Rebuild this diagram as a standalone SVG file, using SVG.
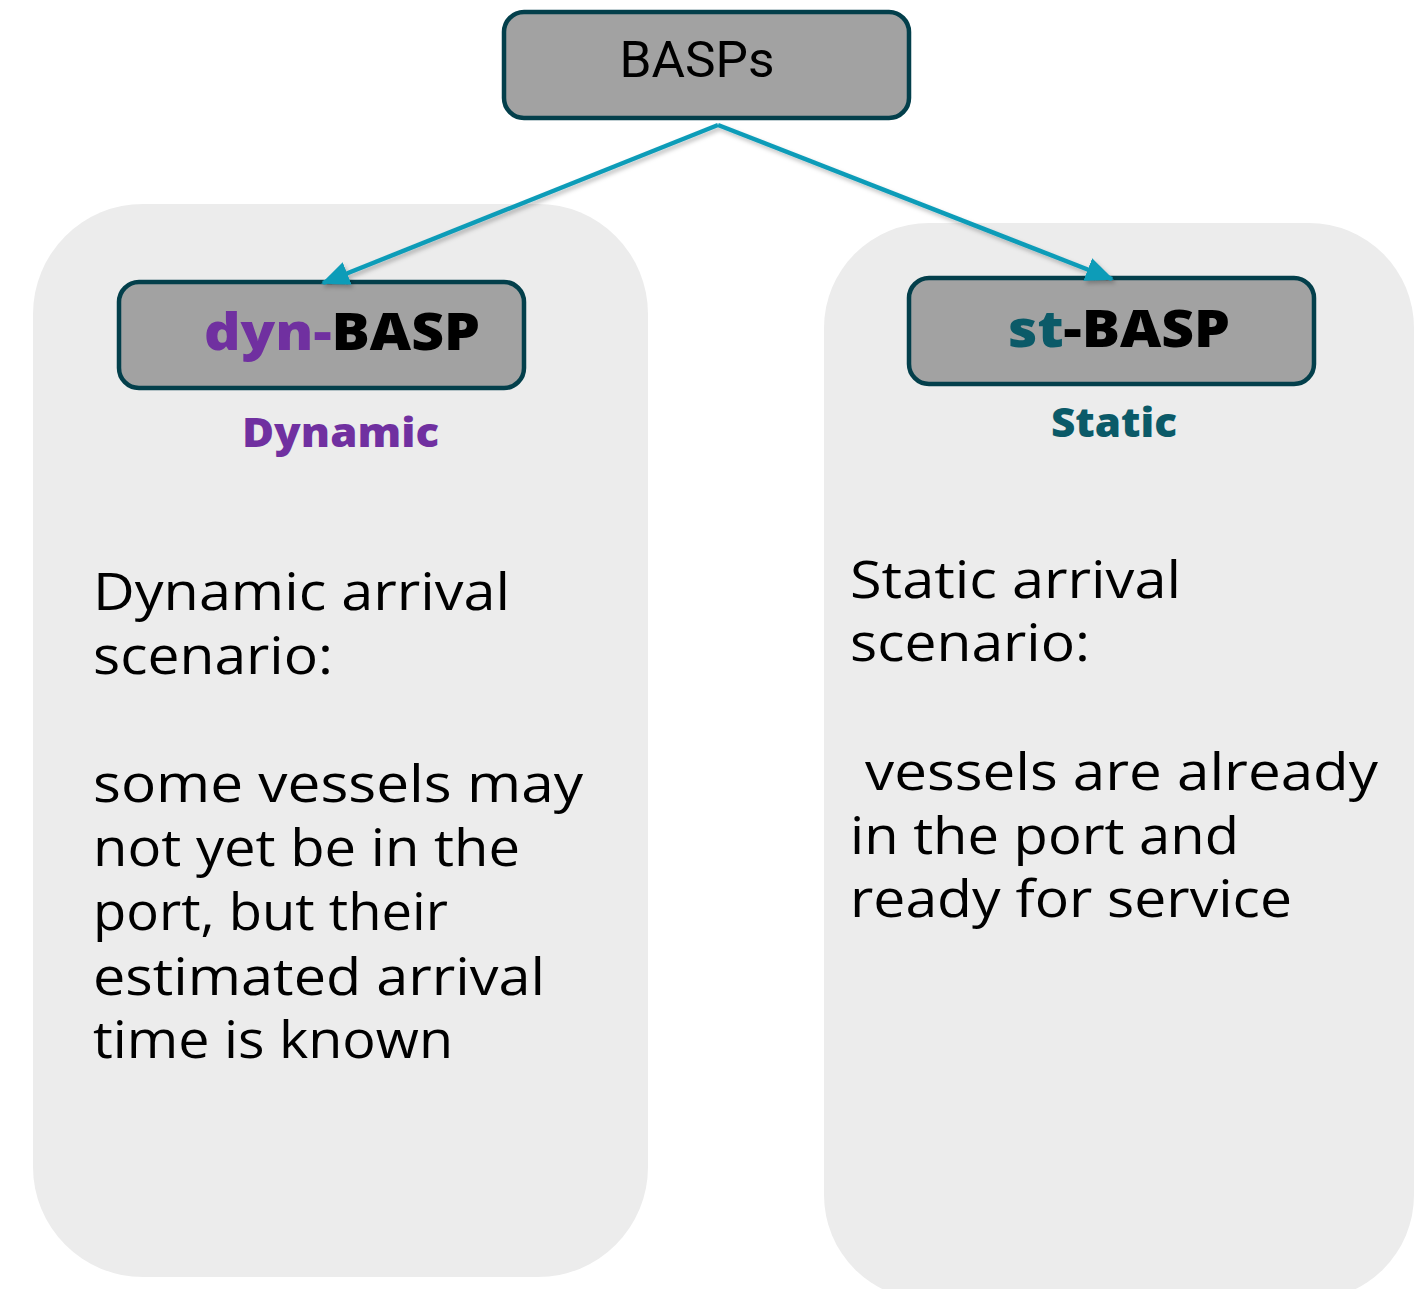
<svg xmlns="http://www.w3.org/2000/svg" width="1426" height="1289" viewBox="0 0 1426 1289">
  <defs>
    <style>
      .panel { fill: #ececec; }
      .node { fill: #a2a2a2; stroke: #033f4b; stroke-width: 4.5; }
      .edge { stroke: #119cb8; stroke-width: 4.5; fill: none; }
      .body { font-family: "Open Sans", "Noto Sans", sans-serif; font-size: 51px; fill: #000; }
      .title { font-family: "Open Sans", "Noto Sans", sans-serif; font-weight: 800; font-size: 51px; }
      .sub { font-family: "Open Sans", "Noto Sans", sans-serif; font-weight: 800; font-size: 40px; }
      .dyn { fill: #7030a0; }
      .st { fill: #0b5a68; }
    </style>
    <marker id="arrow" viewBox="0 0 28 24" refX="26" refY="12" markerWidth="28" markerHeight="24" markerUnits="userSpaceOnUse" orient="auto">
      <path d="M0,0 L28,12 L0,24 z" fill="#119cb8"/>
    </marker>
    <filter id="shadow" x="-10%" y="-10%" width="120%" height="130%">
      <feDropShadow dx="2" dy="3" stdDeviation="2" flood-color="#000" flood-opacity="0.25"/>
    </filter>
  </defs>

  <!-- background panels -->
  <g id="panel-dynamic">
    <rect class="panel" x="33" y="204" width="615" height="1073" rx="110"/>
  </g>
  <g id="panel-static">
    <rect class="panel" x="824" y="223" width="590" height="1077" rx="105"/>
  </g>

  <g id="node-basps">
    <rect class="node" x="504" y="12" width="405" height="106" rx="20"/>
    <text x="697" y="77" text-anchor="middle" font-family="Roboto, 'Liberation Sans', sans-serif" font-size="50" fill="#000" textLength="155" lengthAdjust="spacingAndGlyphs">BASPs</text>
  </g>

  <g id="node-dyn-basp">
    <rect class="node" x="119" y="282" width="405" height="106" rx="20"/>
    <text class="title" x="204" y="350" textLength="276" lengthAdjust="spacingAndGlyphs"><tspan class="dyn">dyn-</tspan><tspan fill="#000">BASP</tspan></text>
    <text class="sub dyn" x="242" y="447" textLength="197" lengthAdjust="spacingAndGlyphs">Dynamic</text>
  </g>

  <g id="node-st-basp">
    <rect class="node" x="909" y="278" width="405" height="106" rx="20"/>
    <text class="title" x="1008" y="347" textLength="222" lengthAdjust="spacingAndGlyphs"><tspan class="st">st</tspan><tspan fill="#000">-BASP</tspan></text>
    <text class="sub st" x="1051" y="437" textLength="126" lengthAdjust="spacingAndGlyphs">Static</text>
  </g>

  <!-- connectors, drawn above the node borders -->
  <g id="connectors" filter="url(#shadow)">
    <line class="edge" x1="718" y1="125" x2="323" y2="283" marker-end="url(#arrow)"/>
    <line class="edge" x1="718" y1="125" x2="1112" y2="279" marker-end="url(#arrow)"/>
  </g>

  <g id="text-dynamic">
    <text class="body" x="93" y="610" textLength="417" lengthAdjust="spacingAndGlyphs">Dynamic arrival</text>
    <text class="body" x="93" y="674" textLength="240" lengthAdjust="spacingAndGlyphs">scenario:</text>
    <text class="body" x="93" y="802" textLength="490" lengthAdjust="spacingAndGlyphs">some vessels may</text>
    <text class="body" x="93" y="866" textLength="427" lengthAdjust="spacingAndGlyphs">not yet be in the</text>
    <text class="body" x="93" y="930" textLength="355" lengthAdjust="spacingAndGlyphs">port, but their</text>
    <text class="body" x="93" y="995" textLength="452" lengthAdjust="spacingAndGlyphs">estimated arrival</text>
    <text class="body" x="93" y="1058" textLength="360" lengthAdjust="spacingAndGlyphs">time is known</text>
  </g>

  <g id="text-static">
    <text class="body" x="850" y="598" textLength="331" lengthAdjust="spacingAndGlyphs">Static arrival</text>
    <text class="body" x="850" y="661" textLength="240" lengthAdjust="spacingAndGlyphs">scenario:</text>
    <text class="body" x="865" y="790" textLength="513" lengthAdjust="spacingAndGlyphs">vessels are already</text>
    <text class="body" x="850" y="854" textLength="389" lengthAdjust="spacingAndGlyphs">in the port and</text>
    <text class="body" x="850" y="917" textLength="442" lengthAdjust="spacingAndGlyphs">ready for service</text>
  </g>
</svg>
